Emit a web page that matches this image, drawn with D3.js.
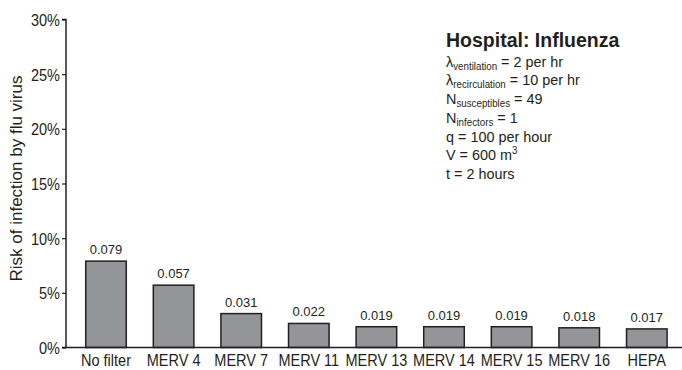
<!DOCTYPE html>
<html><head><meta charset="utf-8">
<script src="https://cdn.jsdelivr.net/npm/d3@7"></script>
<style>
html,body{margin:0;padding:0;background:#fff;}
text{font-family:"Liberation Sans",Arial,sans-serif;fill:#231f20;}
</style></head>
<body><svg id="chart" width="682" height="370"></svg>
<script>
const categories = ["No filter","MERV 4","MERV 7","MERV 11","MERV 13","MERV 14","MERV 15","MERV 16","HEPA"];
const risks = [0.079,0.057,0.031,0.022,0.019,0.019,0.019,0.018,0.017];
const valueLabels = ["0.079","0.057","0.031","0.022","0.019","0.019","0.019","0.018","0.017"];
const yTicks = [0,0.05,0.10,0.15,0.20,0.25,0.30];
const title = "Hospital: Influenza";
const params = [
  ["λ","ventilation"," = 2 per hr"],
  ["λ","recirculation"," = 10 per hr"],
  ["N","susceptibles"," = 49"],
  ["N","infectors"," = 1"],
  ["q = 100 per hour","",""],
  ["V = 600 m","","3"],
  ["t = 2 hours","",""]
];
const yTitle = "Risk of infection by flu virus";

const svg = d3.select("#chart");
const ink = "#231f20";
const x0 = 66, yTop = 19.5, yBot = 347.5;
const sx = 0.88;

const y = d3.scaleLinear().domain([0,0.3]).range([yBot,yTop]);
const x = d3.scaleBand().domain(categories).range([72.2,680.6]).paddingInner(0.4).paddingOuter(0.2);

// bars
svg.append("g").selectAll("rect").data(risks).join("rect")
  .attr("x",(d,i)=>x(categories[i]))
  .attr("y",d=>y(d))
  .attr("width",x.bandwidth())
  .attr("height",d=>yBot-y(d))
  .attr("fill","#939598")
  .attr("stroke",ink).attr("stroke-width",1.5);

// value labels
svg.append("g").selectAll("text").data(risks).join("text")
  .attr("x",(d,i)=>x(categories[i])+x.bandwidth()/2)
  .attr("y",d=>y(d)-7)
  .attr("text-anchor","middle")
  .style("font-size","13px")
  .text((d,i)=>valueLabels[i]);

// y axis
const yAxis = d3.axisLeft(y).tickValues(yTicks).tickSize(4).tickPadding(3)
  .tickFormat(d=>Math.round(d*100)+"%");
const gy = svg.append("g").attr("transform",`translate(${x0},0)`).call(yAxis);
gy.select(".domain").attr("stroke",ink).attr("stroke-width",1.5).attr("d",`M-4,${yTop}H0V${yBot}H-4`);
gy.selectAll(".tick line").attr("stroke",ink).attr("stroke-width",1.2);
gy.selectAll(".tick text").style("font-size","16.5px").style("font-family","Liberation Sans, Arial, sans-serif")
  .attr("fill",ink).attr("dy","0.36em").attr("x",-6/sx).attr("transform",`scale(${sx},1)`);

// x axis
const xAxis = d3.axisBottom(x).tickSize(0).tickPadding(6);
const gx = svg.append("g").attr("transform",`translate(0,${yBot})`).call(xAxis);
gx.select(".domain").attr("stroke",ink).attr("stroke-width",1.5).attr("d",`M${x0},0H682`);
gx.selectAll(".tick text").style("font-size","16.5px").style("font-family","Liberation Sans, Arial, sans-serif")
  .attr("fill",ink).attr("y",7).attr("dy","0.71em").attr("transform",`scale(${sx},1)`);

// y title
svg.append("text")
  .attr("transform",`translate(22,${(yTop+yBot)/2-5}) rotate(-90)`)
  .attr("text-anchor","middle")
  .style("font-size","17px")
  .text(yTitle);

// annotation
svg.append("text").attr("x",446).attr("y",47)
  .style("font-size","19.5px").style("font-weight","bold")
  .text(title);
params.forEach((p,i)=>{
  const t = svg.append("text")
    .attr("transform",`translate(446,${66.7+18.75*i}) scale(0.93,1)`)
    .style("font-size","15.5px");
  t.append("tspan").text(p[0]);
  if (i===5) {
    t.append("tspan").attr("dy",-6).style("font-size","10.5px").text(p[2]);
  } else if (p[1]) {
    t.append("tspan").attr("dy",3).style("font-size","10.5px").text(p[1]);
    t.append("tspan").attr("dy",-3).text(p[2]);
  }
});
</script></body></html>
